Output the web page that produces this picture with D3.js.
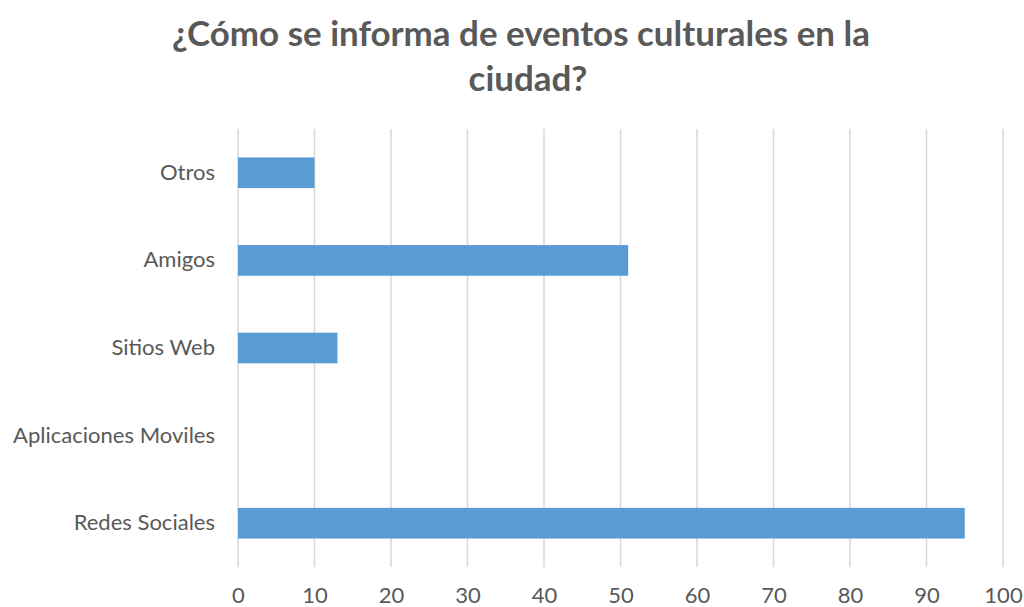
<!DOCTYPE html>
<html>
<head>
<meta charset="utf-8">
<script src="https://cdn.jsdelivr.net/npm/d3@7"></script>
<style>
  html, body { margin: 0; padding: 0; background: #fff; }
  svg { display: block; }
  text { font-family: Lato, "Open Sans", sans-serif; fill: #595959; }
</style>
</head>
<body>
<svg id="chart" width="1024" height="607"></svg>
<script>
// Survey answers: how people hear about cultural events in the city
const titleLines = ["¿Cómo se informa de eventos culturales en la", "ciudad?"];
const categories = ["Otros", "Amigos", "Sitios Web", "Aplicaciones Moviles", "Redes Sociales"];
const values = [10, 51, 13, 0, 95];
const xTicks = [0, 10, 20, 30, 40, 50, 60, 70, 80, 90, 100];

const svg = d3.select("#chart");
const margin = { top: 129, left: 238 };
const plotBottom = 567;

const x = d3.scaleLinear().domain([0, 100]).range([margin.left, 1003]);
const y = d3.scaleBand().domain(categories)
  .range([margin.top, plotBottom]).paddingInner(0.65).paddingOuter(0.325);

// Scale a text node's font size so it spans a given width
function fitWidth(sel, target) {
  const base = parseFloat(sel.attr("font-size"));
  const len = sel.node().getComputedTextLength();
  const size = base * target / len;
  sel.attr("font-size", size);
  return size;
}

// Title
const t1 = svg.append("text").attr("x", 521).attr("y", 46)
  .attr("text-anchor", "middle").attr("font-weight", "bold").attr("font-size", 36)
  .text(titleLines[0]);
const titleSize = fitWidth(t1, 698);
svg.append("text").attr("x", 528).attr("y", 91)
  .attr("text-anchor", "middle").attr("font-weight", "bold").attr("font-size", titleSize)
  .text(titleLines[1]);

// Vertical gridlines
svg.append("g").selectAll("line").data(xTicks).join("line")
  .attr("x1", d => x(d)).attr("x2", d => x(d))
  .attr("y1", margin.top).attr("y2", plotBottom)
  .attr("stroke", "#d9d9d9").attr("stroke-width", 1.5);

// Bars
svg.append("g").selectAll("rect").data(categories).join("rect")
  .attr("x", x(0))
  .attr("y", d => y(d))
  .attr("width", (d, i) => x(values[i]) - x(0))
  .attr("height", y.bandwidth())
  .attr("fill", "#5b9bd5");

// Label size from the widest category label
const probe = svg.append("text").attr("font-size", 20).text("Aplicaciones Moviles");
const labelSize = fitWidth(probe, 202);
probe.remove();

// Category axis
const yAxis = svg.append("g").attr("transform", `translate(${margin.left},0)`)
  .call(d3.axisLeft(y).tickSize(0).tickPadding(23));
yAxis.select(".domain").remove();
yAxis.selectAll("text").attr("font-size", labelSize)
  .attr("font-family", "Lato, sans-serif").attr("fill", "#595959");

// Value axis, labels sitting on a fixed baseline
const xAxis = svg.append("g").attr("transform", `translate(0,${plotBottom})`)
  .call(d3.axisBottom(x).tickValues(xTicks).tickSize(0));
xAxis.select(".domain").remove();
xAxis.selectAll("text").attr("font-size", labelSize)
  .attr("font-family", "Lato, sans-serif").attr("fill", "#595959")
  .attr("dy", null).attr("y", 36);
</script>
</body>
</html>
